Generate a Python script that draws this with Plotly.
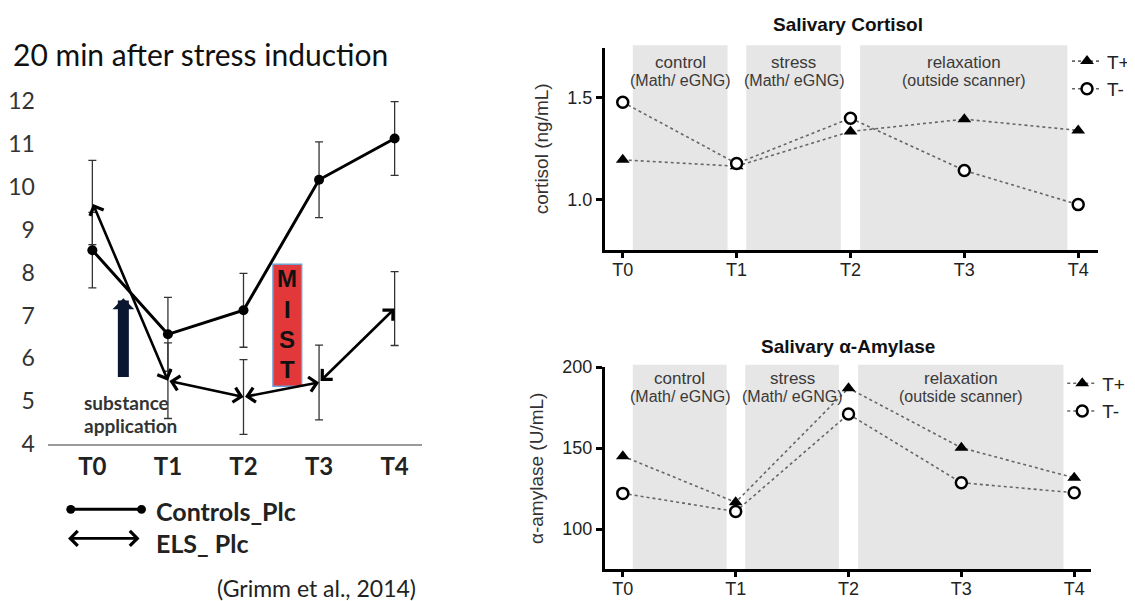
import plotly.graph_objects as go

# ---------------- data ----------------
time_labels = ["T0", "T1", "T2", "T3", "T4"]

# left panel (Grimm et al., 2014)
controls_plc = [8.52, 6.56, 7.12, 10.16, 11.12]
controls_err = [0.88, 0.86, 0.86, 0.88, 0.86]
els_plc = [9.63, 5.48, 5.10, 5.44, 7.16]
els_err = [0.98, 0.88, 0.87, 0.87, 0.86]

# salivary cortisol (ng/mL)
cortisol_tplus = [1.196, 1.165, 1.335, 1.395, 1.34]
cortisol_tminus = [1.478, 1.178, 1.40, 1.144, 0.977]

# salivary alpha-amylase (U/mL)
amylase_tplus = [145, 116.5, 187, 150.2, 131.6]
amylase_tminus = [122, 110.8, 171, 128.6, 122.4]

# phases
phase_names = ["control", "stress", "relaxation"]
phase_subs = ["(Math/ eGNG)", "(Math/ eGNG)", "(outside scanner)"]
phase_spans = [(0.088, 0.92), (1.085, 1.915), (2.085, 3.905)]

# ---------------- page geometry ----------------
OFF = 8
W, H = 1135 - OFF, 608
SY, CY = 0.9525, 14.75      # measured mapping page-y -> picture-y

def px(x):
    return (x - OFF) / W

def pp(p):
    y = (p - CY) / SY
    return (H - (y - OFF)) / H

x_idx = list(range(len(time_labels)))
fig = go.Figure()

# ---------- left panel ----------
err_style = dict(type="data", thickness=1.3, width=4, color="#333333")
fig.add_trace(go.Scatter(
    x=x_idx, y=els_plc, mode="markers", marker=dict(size=1, color="rgba(0,0,0,0)"),
    error_y=dict(array=els_err, **err_style), xaxis="x", yaxis="y", showlegend=False,
    hoverinfo="skip"))
fig.add_trace(go.Scatter(
    x=x_idx, y=controls_plc, mode="lines+markers",
    line=dict(color="black", width=3), marker=dict(size=10, color="black"),
    error_y=dict(array=controls_err, **err_style), xaxis="x", yaxis="y", showlegend=False))

annotations = []
shapes = []
for i in range(len(els_plc) - 1):
    annotations.append(dict(
        x=x_idx[i + 1], y=els_plc[i + 1], ax=x_idx[i], ay=els_plc[i],
        xref="x", yref="y", axref="x", ayref="y", text="", showarrow=True,
        arrowside="end+start", arrowhead=4, startarrowhead=4,
        arrowsize=1.1, startarrowsize=1.1, arrowwidth=2.6, arrowcolor="black",
        standoff=0, startstandoff=0))

# substance application arrow
annotations.append(dict(
    x=0.41, y=7.40, ax=0.41, ay=5.53, xref="x", yref="y", axref="x", ayref="y",
    text="", showarrow=True, arrowhead=1, arrowsize=0.33, arrowwidth=11,
    arrowcolor="#0b1631"))
for txt, p in (("substance", 401), ("application", 424)):
    annotations.append(dict(
        x=px(82), y=pp(p), xref="paper", yref="paper", xanchor="left", yanchor="middle",
        text="<b>%s</b>" % txt, showarrow=False,
        font=dict(family="Lato", size=19, color="#333333")))

# MIST box
shapes.append(dict(type="rect", xref="x", yref="y", x0=2.39, x1=2.77, y0=5.35, y1=8.19,
                   fillcolor="#e2383a", line=dict(color="#6f9fd3", width=1.5), layer="below"))
for k, letter in enumerate("MIST"):
    annotations.append(dict(
        x=2.58, y=7.85 - k * 0.70, xref="x", yref="y", text="<b>%s</b>" % letter,
        showarrow=False, xanchor="center", yanchor="middle",
        font=dict(family="Liberation Sans", size=24, color="#111111")))

# title
annotations.append(dict(
    x=px(11), y=pp(53), xref="paper", yref="paper", xanchor="left", yanchor="middle",
    text="20 min after stress induction", showarrow=False,
    font=dict(family="Lato", size=30, color="#111111")))

# left legend
shapes.append(dict(type="line", xref="paper", yref="paper", x0=px(71), x1=px(142),
                   y0=pp(508), y1=pp(508), line=dict(color="black", width=3)))
for cx in (71, 142):
    shapes.append(dict(type="circle", xref="paper", yref="paper",
                       x0=px(cx - 4.5), x1=px(cx + 4.5), y0=pp(508 - 4.3), y1=pp(508 + 4.3),
                       fillcolor="black", line=dict(color="black", width=0)))
annotations.append(dict(
    x=px(140), y=pp(537), ax=-73, ay=0, xref="paper", yref="paper",
    text="", showarrow=True, arrowside="end+start", arrowhead=4, startarrowhead=4,
    arrowsize=1.1, startarrowsize=1.1, arrowwidth=2.6, arrowcolor="black"))
annotations.append(dict(
    x=px(155), y=pp(510), xref="paper", yref="paper", xanchor="left", yanchor="middle",
    text="<b>Controls_Plc</b>", showarrow=False, font=dict(family="Lato", size=25, color="#222222")))
annotations.append(dict(
    x=px(155), y=pp(542), xref="paper", yref="paper", xanchor="left", yanchor="middle",
    text="<b>ELS_ Plc</b>", showarrow=False, font=dict(family="Lato", size=25, color="#222222")))
annotations.append(dict(
    x=px(318), y=pp(587), xref="paper", yref="paper", xanchor="center", yanchor="middle",
    text="(Grimm et al., 2014)", showarrow=False, font=dict(family="Lato", size=23, color="#222222")))

# ---------- right panels ----------
def add_panel(tplus, tminus, xa, ya, legend, title, title_p, lab_p, sub_p):
    for (x0, x1) in phase_spans:
        shapes.append(dict(type="rect", xref=xa, yref=ya + " domain", x0=x0, x1=x1, y0=0, y1=1.012,
                           fillcolor="#e6e6e6", line=dict(width=0), layer="below"))
    for (x0, x1), name, sub in zip(phase_spans, phase_names, phase_subs):
        annotations.append(dict(x=(x0 + x1) / 2, y=pp(lab_p), xref=xa, yref="paper",
                                text=name, showarrow=False, xanchor="center", yanchor="middle",
                                font=dict(family="Liberation Sans", size=17, color="#3a3a3a")))
        annotations.append(dict(x=(x0 + x1) / 2, y=pp(sub_p), xref=xa, yref="paper",
                                text=sub, showarrow=False, xanchor="center", yanchor="middle",
                                font=dict(family="Liberation Sans", size=16, color="#3a3a3a")))
    fig.add_trace(go.Scatter(
        x=x_idx, y=tplus, mode="lines+markers", name="T+",
        line=dict(color="#666666", width=1.6, dash="dot"),
        marker=dict(symbol="triangle-up", size=12, color="black"),
        xaxis=xa, yaxis=ya, legend=legend))
    fig.add_trace(go.Scatter(
        x=x_idx, y=tminus, mode="lines+markers", name="T-",
        line=dict(color="#666666", width=1.6, dash="dot"),
        marker=dict(symbol="circle", size=11, color="white", line=dict(color="black", width=2.5)),
        xaxis=xa, yaxis=ya, legend=legend))
    annotations.append(dict(x=px(851), y=pp(title_p), xref="paper", yref="paper",
                            xanchor="center", yanchor="middle",
                            text="<b>%s</b>" % title, showarrow=False,
                            font=dict(family="Liberation Sans", size=19, color="#111111")))

add_panel(cortisol_tplus, cortisol_tminus, "x2", "y2", "legend", "Salivary Cortisol",
          24, 62, 80)
add_panel(amylase_tplus, amylase_tminus, "x3", "y3", "legend2", "Salivary α-Amylase",
          345, 377, 395)

right_x = dict(showline=True, linecolor="black", linewidth=3, ticks="outside", ticklen=5,
               tickwidth=2.5, tickcolor="black", tickvals=x_idx, ticktext=time_labels,
               showgrid=False, zeroline=False, ticklabelstandoff=-4,
               tickfont=dict(family="Liberation Sans", size=18, color="#222222"))
right_y = dict(showline=True, linecolor="black", linewidth=3, ticks="outside", ticklen=6,
               tickwidth=2.5, tickcolor="black", showgrid=False, zeroline=False,
               tickfont=dict(family="Liberation Sans", size=18, color="#222222"),
               title_font=dict(family="Liberation Sans", size=19, color="#333333"))

legend_style = dict(xanchor="left", yanchor="top", bgcolor="rgba(0,0,0,0)",
                    font=dict(family="Liberation Sans", size=19, color="#222222"),
                    itemwidth=30, tracegroupgap=0)

fig.update_layout(
    width=W, height=H, margin=dict(l=0, r=0, t=0, b=0),
    plot_bgcolor="white", paper_bgcolor="white",
    xaxis=dict(domain=[px(48), px(423)], range=[-0.589, 4.356], showline=True,
               linecolor="#9a9a9a", linewidth=2, ticks="", showgrid=False, zeroline=False,
               tickvals=x_idx, ticktext=["<b>%s</b>" % t for t in time_labels],
               tickfont=dict(family="Lato", size=24, color="#222222")),
    yaxis=dict(domain=[pp(443), pp(100)], range=[4, 12], dtick=1, showline=False,
               showgrid=False, zeroline=False, ticks="", ticklabelstandoff=12,
               tickfont=dict(family="Lato", size=23, color="#333333")),
    xaxis2=dict(domain=[px(607), px(1102)], range=[-0.157, 4.175], anchor="y2", **right_x),
    yaxis2=dict(domain=[pp(249), pp(47)], range=[0.755, 1.745], tickvals=[1.0, 1.5],
                ticktext=["1.0", "1.5"], anchor="x2",
                title=dict(text="cortisol (ng/mL)", standoff=14), **right_y),
    xaxis3=dict(domain=[px(607), px(1095)], range=[-0.159, 4.15], anchor="y3", **right_x),
    yaxis3=dict(domain=[pp(568), pp(366)], range=[75, 200], tickvals=[100, 150, 200],
                anchor="x3", title=dict(text="α-amylase (U/mL)", standoff=14), **right_y),
    legend=dict(x=px(1071), y=pp(41.6), **legend_style),
    legend2=dict(x=px(1066), y=pp(363.3), **legend_style),
    shapes=shapes, annotations=annotations,
)

fig.write_html("out.html")
